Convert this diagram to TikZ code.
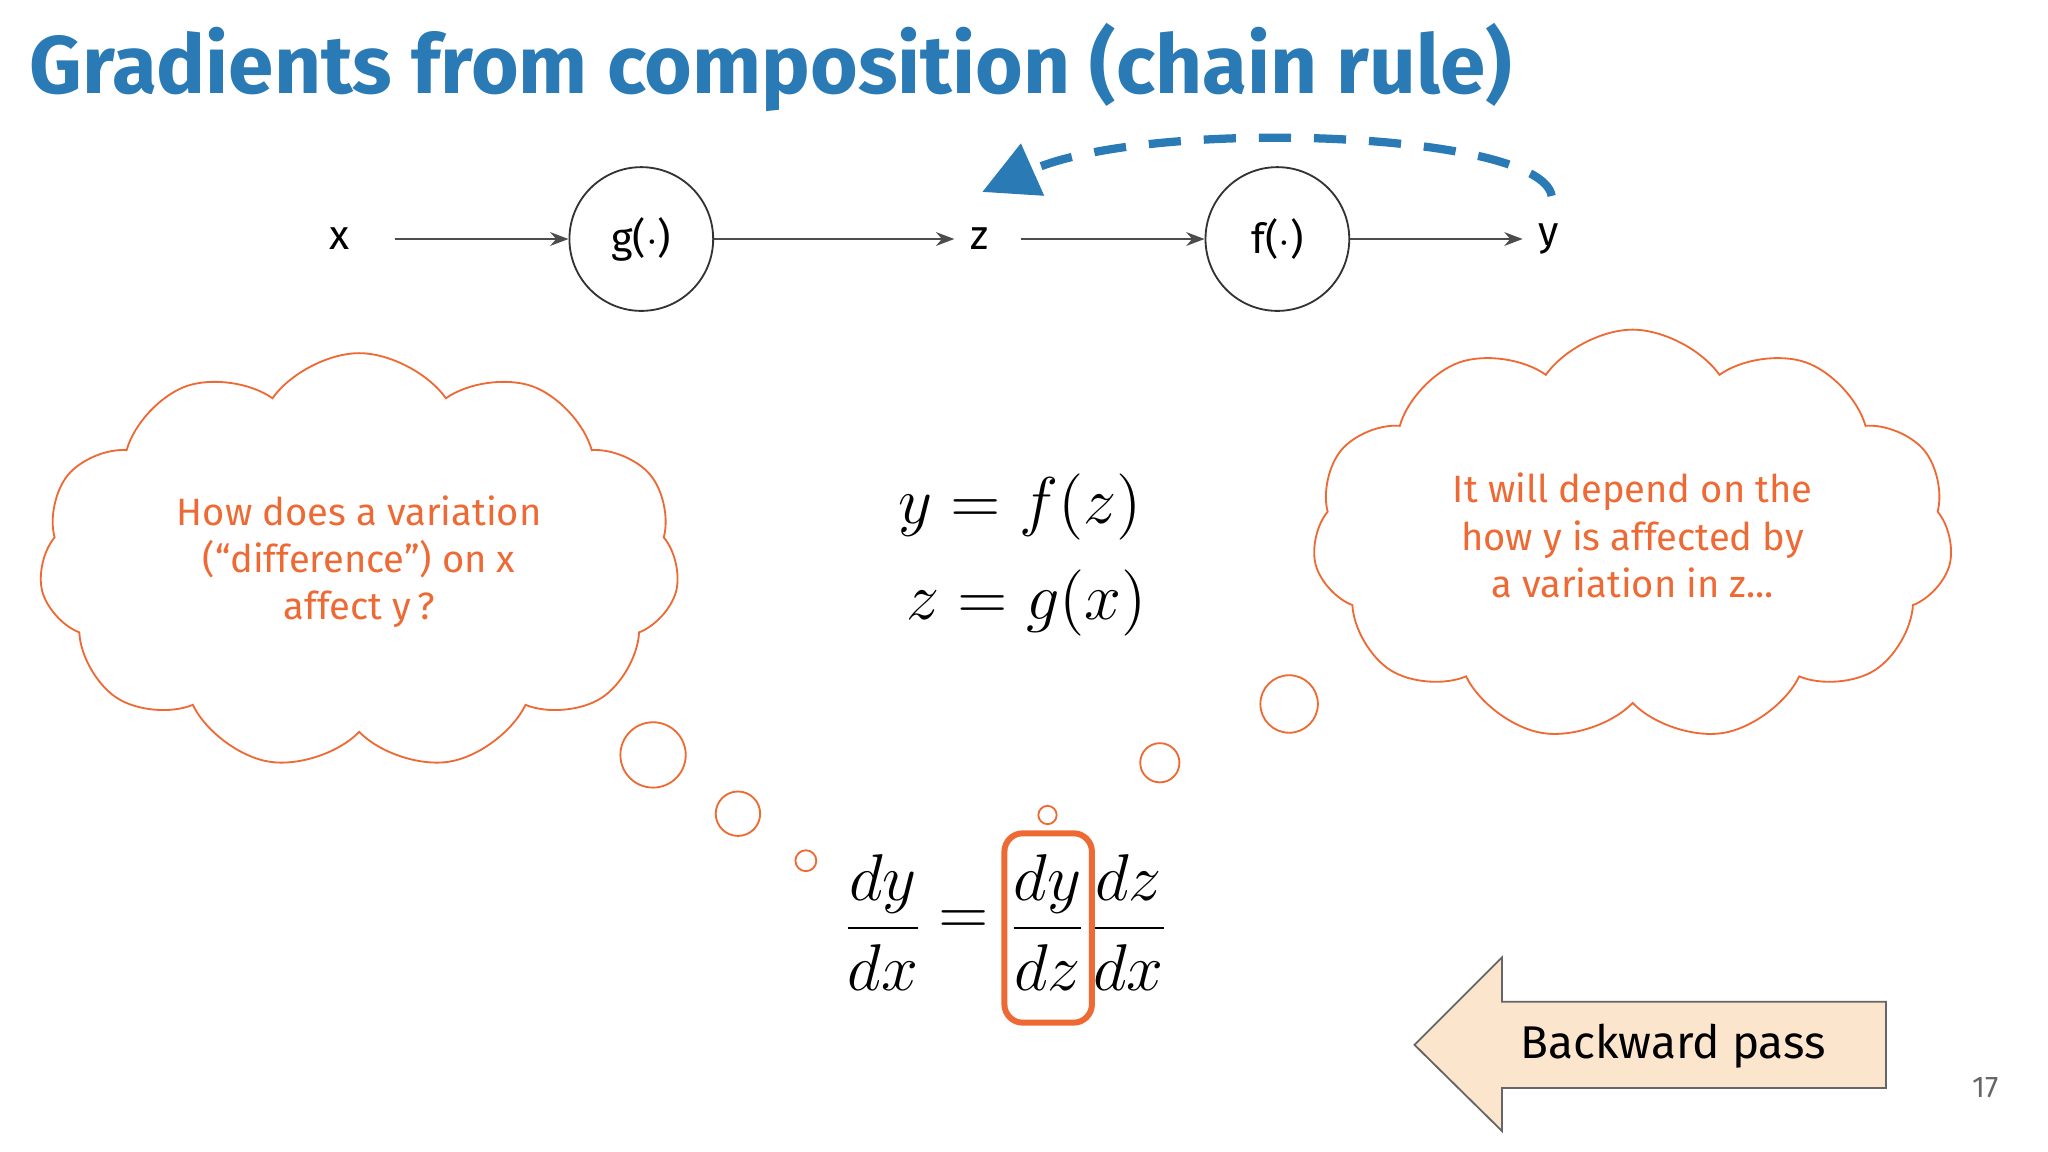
\documentclass[tikz,border=0pt]{standalone}
\usepackage{fontspec}
\setmainfont{Fira Sans}
\usetikzlibrary{shapes.symbols,arrows.meta}
\definecolor{tblue}{HTML}{2A7AB5}
\definecolor{torange}{HTML}{EE6A35}
\definecolor{peach}{HTML}{FCE5CD}
\tikzset{
  fnode/.style={circle,draw=black!80,thin,minimum size=1.1cm,inner sep=0pt,font=\fontsize{9}{11}\selectfont},
  lbl/.style={font=\fontsize{9}{11}\selectfont},
  flow/.style={-{Stealth[length=4pt,width=3pt]},black!70,thin},
  thought/.style={cloud,cloud puffs=11,cloud puff arc=110,aspect=1.6,draw=torange,thin,text=torange,align=center,font=\fontsize{8.3}{10.3}\selectfont},
  bub/.style={circle,draw=torange,thin,inner sep=0pt},
  eq/.style={font=\fontsize{14}{17}\selectfont,inner sep=0pt}
}
\begin{document}
\begin{tikzpicture}[x=0.01cm,y=-0.01cm]
\useasboundingbox (0,0) rectangle (1568,882);
\node[anchor=west,text=tblue,font=\fontsize{17.8}{20}\selectfont\bfseries] (title) at (10,52) {Gradients from composition (chain rule)};
\node[lbl] (x) at (260,183) {x};
\node[fnode] (g) at (491,183) {g($\cdot$)};
\node[lbl] (z) at (750,183) {z};
\node[fnode] (f) at (978,183) {f($\cdot$)};
\node[lbl] (y) at (1186,183) {y};
\draw[flow] (x.east)++(22,0) coordinate (x1) (x1) -- (g);
\draw[flow] (g) -- (z.west);
\draw[flow] (z.east)++(12,0) coordinate (z1) (z1) -- (f);
\draw[flow] (f) -- (y.west);
\coordinate (ds) at (1188,150);
\coordinate (de) at (752,147);
\draw[tblue,line width=1.8pt,dash pattern=on 7pt off 5pt,-{Triangle[length=12pt,width=12pt]}]
  (ds) .. controls (1180,100) and (880,90) .. (de);
\node[thought,minimum width=4.9cm,minimum height=3.0cm] (c1) at (275,430) {How does a variation\\(“difference”) on x\\affect y\,?};
\node[thought,minimum width=4.9cm,minimum height=2.65cm] (c2) at (1250,410) {It will depend on the\\how y is affected by\\a variation in z...};
\node[bub,minimum size=0.5cm] (b1) at (500,578) {};
\node[bub,minimum size=0.34cm] (b2) at (565,623) {};
\node[bub,minimum size=0.16cm] (b3) at (617,659) {};
\node[bub,minimum size=0.14cm] (b4) at (802,624) {};
\node[bub,minimum size=0.3cm] (b5) at (888,584) {};
\node[bub,minimum size=0.44cm] (b6) at (987,539) {};
\node[eq] (e1) at (781,388) {$y = f(z)$};
\node[eq] (e2) at (786,462) {$z = g(x)$};
\node[eq] (fr1) at (676,706) {$\displaystyle\frac{dy}{dx}$};
\node[eq] (eqs) at (738,706) {$=$};
\node[eq] (fr2) at (802,706) {$\displaystyle\frac{dy}{dz}$};
\node[eq] (fr3) at (864,706) {$\displaystyle\frac{dz}{dx}$};
\draw[torange,line width=1.3pt,rounded corners=4pt] (769,638) rectangle (836,783);
\draw[black!60,fill=peach,thin] (1083,800) -- (1150,733) -- (1150,767) -- (1444,767) -- (1444,833) -- (1150,833) -- (1150,866) -- cycle;
\node[font=\fontsize{10}{12}\selectfont] (bp) at (1281,801) {Backward pass};
\node[text=black!60,font=\fontsize{6.5}{8}\selectfont] (pg) at (1520,833) {17};
\end{tikzpicture}
\end{document}
